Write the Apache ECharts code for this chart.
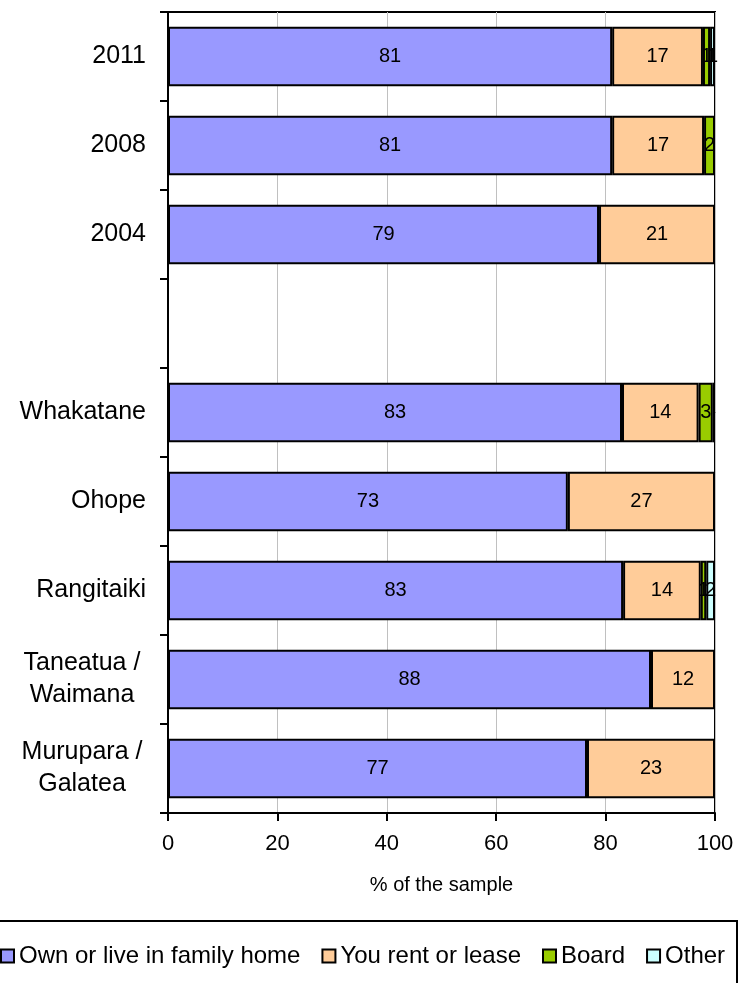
<!DOCTYPE html>
<html>
<head>
<meta charset="utf-8">
<title>Housing tenure</title>
<script src="https://cdn.jsdelivr.net/npm/echarts@6/dist/echarts.min.js"></script>
<style>
  body { margin: 0; background: #fff; }
  #main { width: 749px; height: 983px; }
</style>
</head>
<body>
<div id="main"></div>
<script>
// categories top to bottom (blank row separates years from areas)
const categories = ['2011', '2008', '2004', '', 'Whakatane', 'Ohope', 'Rangitaiki',
  'Taneatua /\nWaimana', 'Murupara /\nGalatea'];

const ownHome = [81.2, 81.2, 78.8, null, 83.0, 73.1, 83.2, 88.3, 76.6];
const rentLease = [16.6, 16.8, 21.2, null, 14.0, 26.9, 14.2, 11.7, 23.4];
const board = [1.3, 2.0, null, null, 2.6, null, 1.0, null, null];
const other = [0.9, null, null, null, 0.4, null, 1.6, null, null];

const xTicks = [0, 20, 40, 60, 80, 100];

const seriesNames = ['Own or live in family home', 'You rent or lease', 'Board', 'Other'];
const seriesColors = ['#9999FF', '#FFCC99', '#99CC00', '#CCFFFF'];
const seriesData = [ownHome, rentLease, board, other];

const FONT = "'Liberation Sans', Arial, sans-serif";

let chart = echarts.init(document.getElementById('main'));

let series = seriesData.map((d, i) => ({
  name: seriesNames[i],
  type: 'bar',
  stack: 'total',
  data: d,
  barCategoryGap: '33%',
  itemStyle: { color: seriesColors[i], borderColor: '#000', borderWidth: 2 },
  label: {
    show: true,
    position: 'inside',
    color: '#000',
    fontFamily: FONT,
    fontSize: 20,
    formatter: p => (p.value == null || p.value < 0.5) ? '' : Math.round(p.value)
  }
}));

let option = {
  animation: false,
  textStyle: { fontFamily: FONT },
  grid: {
    left: 168, right: 34, top: 12, bottom: 170,
    show: true, borderColor: '#000', borderWidth: 2
  },
  xAxis: {
    type: 'value',
    min: xTicks[0],
    max: xTicks[xTicks.length - 1],
    interval: 20,
    name: '% of the sample',
    nameLocation: 'middle',
    nameGap: 62,
    nameTextStyle: { color: '#000', fontSize: 20, fontFamily: FONT },
    axisLine: { show: true, lineStyle: { color: '#000', width: 2 } },
    axisTick: { show: true, length: 8, lineStyle: { color: '#000', width: 2 } },
    axisLabel: { color: '#000', fontSize: 22, fontFamily: FONT, margin: 20 },
    splitLine: { show: true, lineStyle: { color: '#c0c0c0', width: 1 } }
  },
  yAxis: {
    type: 'category',
    inverse: true,
    data: categories,
    axisLine: { show: true, lineStyle: { color: '#000', width: 2 } },
    axisTick: { show: true, length: 8, lineStyle: { color: '#000', width: 2 } },
    axisLabel: {
      color: '#000',
      fontSize: 25,
      fontFamily: FONT,
      margin: 22,
      formatter: v => v.indexOf('\n') >= 0 ? '{m|' + v + '}' : v,
      rich: {
        m: { width: 128, align: 'center', lineHeight: 32, fontSize: 25, fontFamily: FONT, color: '#000' }
      }
    },
    splitLine: { show: false }
  },
  legend: {
    left: -5,
    top: 939,
    icon: 'rect',
    itemWidth: 13,
    itemHeight: 13,
    itemGap: 21,
    itemStyle: { borderColor: '#000', borderWidth: 2 },
    textStyle: { color: '#000', fontSize: 24, fontFamily: FONT },
    data: seriesNames
  },
  graphic: [{
    type: 'rect',
    shape: { x: -5, y: 921, width: 742, height: 100 },
    style: { fill: 'none', stroke: '#000', lineWidth: 2 },
    silent: true
  }],
  series: series
};

chart.setOption(option);
</script>
</body>
</html>
